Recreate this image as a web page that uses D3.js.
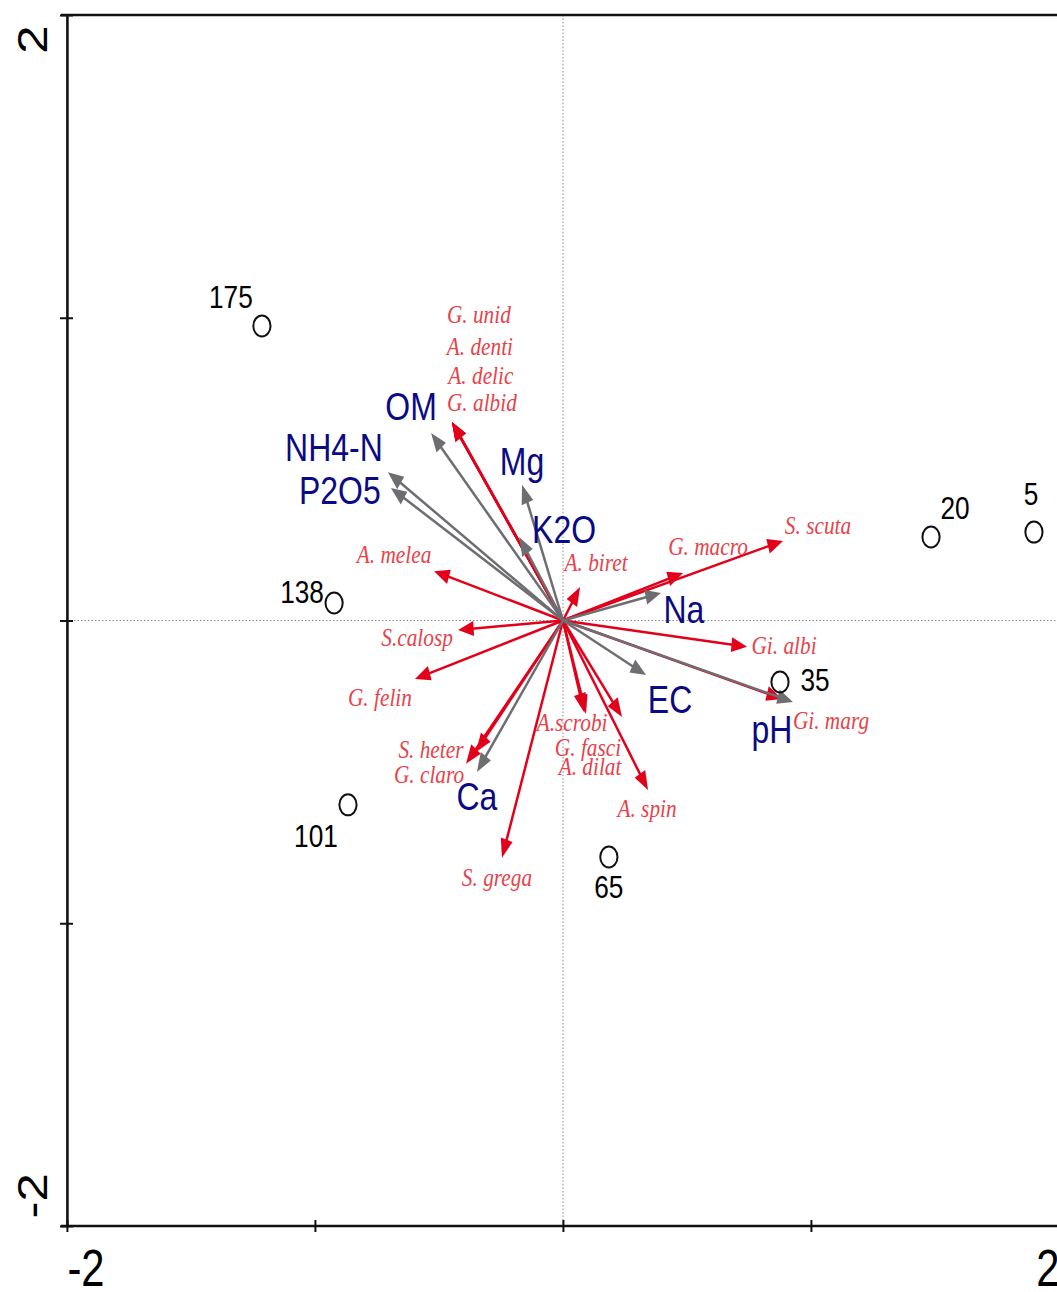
<!DOCTYPE html>
<html>
<head>
<meta charset="utf-8">
<script src="https://cdn.jsdelivr.net/npm/d3@7"></script>
<style>
  html, body { margin: 0; padding: 0; background: #fff; }
  svg { display: block; }
</style>
</head>
<body>
<div id="chart"></div>
<script>
// Ordination biplot: sampling sites, environmental vectors and species vectors

// Axis ticks
const xTicks = [-2, -1, 0, 1, 2];
const yTicks = [-2, -1, 0, 1, 2];
const tickLabels = { "-2": "-2", "2": "2" };

// Sites (sample scores)
const siteNames = ["175", "138", "101", "65", "35", "20", "5"];
const siteX = [-1.214, -0.923, -0.867, 0.185, 0.875, 1.484, 1.899];
const siteY = [0.973, 0.058, -0.609, -0.781, -0.203, 0.276, 0.292];

// Environmental variables (biplot scores)
const envNames = ["OM", "NH4-N", "P2O5", "Mg", "K2O", "Na", "EC", "pH", "Ca"];
const envX = [-0.532, -0.706, -0.694, -0.165, -0.177, 0.395, 0.335, 0.927, -0.347];
const envY = [0.619, 0.490, 0.438, 0.448, 0.276, 0.091, -0.180, -0.269, -0.500];

// Species scores
const spNames = ["G. unid", "A. denti", "A. delic", "G. albid", "A. melea", "A. biret",
  "G. macro", "S. scuta", "Gi. albi", "Gi. marg", "A. spin", "A.scrobi", "G. fasci",
  "A. dilat", "S.calosp", "G. felin", "S. heter", "G. claro", "S. grega"];
const spX = [-0.448, -0.448, -0.448, -0.448, -0.520, 0.069, 0.484, 0.887, 0.742, 0.883,
  0.343, 0.093, 0.238, 0.085, -0.423, -0.597, -0.351, -0.391, -0.246];
const spY = [0.656, 0.656, 0.656, 0.656, 0.163, 0.111, 0.157, 0.263, -0.087, -0.259,
  -0.560, -0.309, -0.319, -0.303, -0.031, -0.193, -0.434, -0.473, -0.784];

// Label placement (pixel offsets from the point / arrow tip to the label centre)
const siteLabelOffset = {
  "175": [-31, -29], "138": [-32, -11], "101": [-32, 31], "65": [0, 30],
  "35": [35, -2], "20": [24, -29], "5": [-3, -38]
};
const envLabelOffset = {
  "OM": [-20, -26], "NH4-N": [-54, -24], "P2O5": [-51, 3], "Mg": [0, -23],
  "K2O": [45, -7], "Na": [23, 17], "EC": [24, 25], "pH": [-21, 28], "Ca": [0, 25]
};
const spLabelOffset = {
  "G. unid": [27, -108], "A. denti": [28, -76], "A. delic": [29, -47], "G. albid": [30, -20],
  "A. melea": [-40, -17], "A. biret": [16, -25], "G. macro": [25, -27], "S. scuta": [35, -16],
  "Gi. albi": [37, -2], "Gi. marg": [49, 21], "A. spin": [-1, 18], "A.scrobi": [-14, 8],
  "G. fasci": [-34, 30], "A. dilat": [6, 54], "S.calosp": [-41, 7], "G. felin": [-35, 18],
  "S. heter": [-45, -3], "G. claro": [-37, 11], "S. grega": [-5, 19]
};

const sites = siteNames.map((n, i) => ({ name: n, x: siteX[i], y: siteY[i] }));
const envs = envNames.map((n, i) => ({ name: n, x: envX[i], y: envY[i] }));
const species = spNames.map((n, i) => ({ name: n, x: spX[i], y: spY[i] }));

const W = 1057, H = 1292;
const SX = 0.82; // horizontal condensing of the whole drawing

const svg = d3.select("#chart").append("svg")
  .attr("width", W).attr("height", H)
  .attr("viewBox", `0 0 ${W} ${H}`);

const g = svg.append("g").attr("transform", `scale(${SX},1)`);

const x = d3.scaleLinear().domain([-2, 2]).range([67 / SX, 1059 / SX]);
const y = d3.scaleLinear().domain([-2, 2]).range([1226, 15]);

const SANS = "'Liberation Sans', Arial, sans-serif";
const SERIF = "'Liberation Serif', 'Times New Roman', serif";

// Zero reference lines
g.append("line")
  .attr("x1", x(0)).attr("x2", x(0)).attr("y1", y(2)).attr("y2", y(-2))
  .attr("stroke", "#8a8a8a").attr("stroke-width", 1).attr("stroke-dasharray", "1.5,2")
  .attr("vector-effect", "non-scaling-stroke");
g.append("line")
  .attr("x1", x(-2)).attr("x2", x(2)).attr("y1", y(0)).attr("y2", y(0))
  .attr("stroke", "#8a8a8a").attr("stroke-width", 1).attr("stroke-dasharray", "1.5,2")
  .attr("vector-effect", "non-scaling-stroke");

// Axes
const fmt = v => tickLabels[String(v)] || "";
const axB = g.append("g").attr("transform", `translate(0,${y(-2)})`)
  .call(d3.axisBottom(x).tickValues(xTicks).tickSize(6).tickSizeOuter(0).tickFormat(fmt));
const axL = g.append("g").attr("transform", `translate(${x(-2)},0)`)
  .call(d3.axisLeft(y).tickValues(yTicks).tickSize(6).tickSizeOuter(0).tickFormat(fmt));
const axT = g.append("g").attr("transform", `translate(0,${y(2)})`)
  .call(d3.axisTop(x).tickValues([]).tickSizeOuter(0));

[axB, axL, axT].forEach(a => {
  a.select(".domain").attr("stroke", "#111").attr("stroke-width", 2.6)
    .attr("vector-effect", "non-scaling-stroke");
  a.selectAll(".tick line").attr("stroke", "#111").attr("stroke-width", 2)
    .attr("vector-effect", "non-scaling-stroke");
});
axB.selectAll(".tick line").attr("y1", -6).attr("y2", 6);
axL.selectAll(".tick line").attr("x1", -7 / SX).attr("x2", 6 / SX);
// extend the top and bottom frame lines slightly past the left axis
axT.select(".domain").attr("d", `M${x(-2) - 6 / SX},0H${x(2)}`);
axB.select(".domain").attr("d", `M${x(-2) - 6 / SX},0H${x(2)}`);

axB.selectAll(".tick text")
  .attr("font-family", SANS).attr("font-size", 51).attr("fill", "#000")
  .attr("y", 60).attr("dy", 0)
  .attr("text-anchor", d => d < 0 ? "start" : "end");
axL.selectAll(".tick text")
  .attr("font-family", SANS).attr("font-size", 51).attr("fill", "#000")
  .attr("transform", "rotate(-90)")
  .attr("dy", 0)
  .attr("y", -20 / SX)
  .attr("x", d => d < 0 ? 8 : -10)
  .attr("text-anchor", d => d < 0 ? "start" : "end");

// Arrow drawing helper (line plus filled head, in the condensed frame)
function drawArrows(data, color, width) {
  const ox = x(0), oy = y(0);
  const grp = g.append("g");
  data.forEach(d => {
    const tx = x(d.x), ty = y(d.y);
    const vx = tx - ox, vy = ty - oy;
    const len = Math.hypot(vx, vy);
    const ux = vx / len, uy = vy / len;
    const hl = 19, hw = 7.5;
    const bx = tx - ux * hl, by = ty - uy * hl;
    grp.append("line")
      .attr("x1", ox).attr("y1", oy)
      .attr("x2", tx - ux * hl * 0.7).attr("y2", ty - uy * hl * 0.7)
      .attr("stroke", color).attr("stroke-width", width)
      .attr("vector-effect", "non-scaling-stroke");
    grp.append("path")
      .attr("d", `M${tx},${ty}L${bx - uy * hw},${by + ux * hw}L${bx + uy * hw},${by - ux * hw}Z`)
      .attr("fill", color);
  });
}

drawArrows(species, "#e2001a", 2.5);
drawArrows(envs, "#6e6e72", 2.5);

// Species labels
g.append("g").selectAll("text").data(species).join("text")
  .attr("x", d => x(d.x) + spLabelOffset[d.name][0] / SX)
  .attr("y", d => y(d.y) + spLabelOffset[d.name][1])
  .attr("text-anchor", "middle").attr("dominant-baseline", "central")
  .attr("font-family", SERIF).attr("font-style", "italic").attr("font-size", 26)
  .attr("fill", "#e8424a")
  .text(d => d.name);

// Environmental labels
g.append("g").selectAll("text").data(envs).join("text")
  .attr("x", d => x(d.x) + envLabelOffset[d.name][0] / SX)
  .attr("y", d => y(d.y) + envLabelOffset[d.name][1])
  .attr("text-anchor", "middle").attr("dominant-baseline", "central")
  .attr("font-family", SANS).attr("font-size", 39)
  .attr("fill", "#0a0a84")
  .text(d => d.name);

// Sites
g.append("g").selectAll("circle").data(sites).join("circle")
  .attr("cx", d => x(d.x)).attr("cy", d => y(d.y)).attr("r", 10.5)
  .attr("fill", "none").attr("stroke", "#111").attr("stroke-width", 2)
  .attr("vector-effect", "non-scaling-stroke");

g.append("g").selectAll("text").data(sites).join("text")
  .attr("x", d => x(d.x) + siteLabelOffset[d.name][0] / SX)
  .attr("y", d => y(d.y) + siteLabelOffset[d.name][1])
  .attr("text-anchor", "middle").attr("dominant-baseline", "central")
  .attr("font-family", SANS).attr("font-size", 32)
  .attr("fill", "#000")
  .text(d => d.name);
</script>
</body>
</html>
